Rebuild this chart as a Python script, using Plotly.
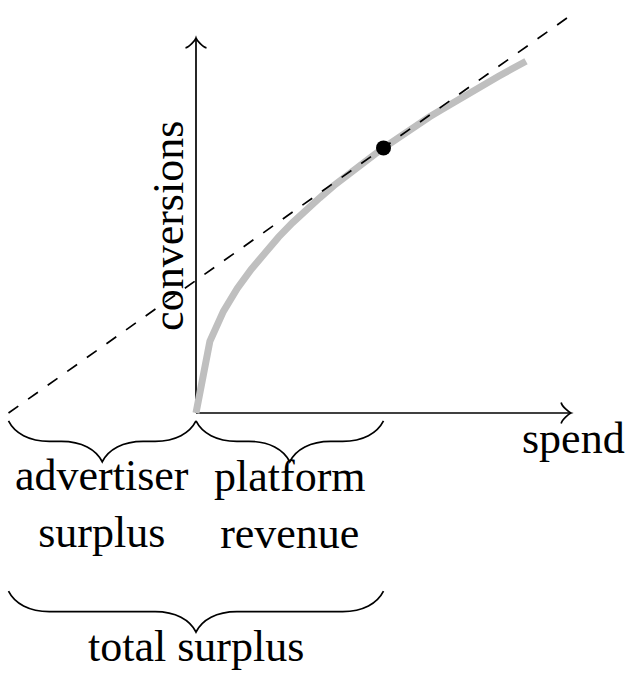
import plotly.graph_objects as go

# ---- data ----
spend_curve = [0.0, 0.37, 0.73, 1.10, 1.47, 1.83, 2.20, 2.57, 2.93, 3.30, 3.67, 4.03, 4.40,
               4.77, 5.13, 5.50, 5.87, 6.23, 6.60, 6.97, 7.33, 7.70, 8.07, 8.43, 8.80]
conversions_curve = [0.0, 1.91, 2.71, 3.32, 3.83, 4.28, 4.69, 5.07, 5.42, 5.74, 6.06, 6.35, 6.63,
                     6.90, 7.16, 7.42, 7.66, 7.90, 8.12, 8.35, 8.56, 8.77, 8.98, 9.18, 9.38]
tangent_spend = [-5.0, 10.0]
tangent_conversions = [0.0, 10.61]
point_spend = [5.0]
point_conversions = [7.07]
axis_max = 10.0
axis_labels = ["spend", "conversions"]
brace_start = [-5.0, 0.0, -5.0]
brace_end = [0.0, 5.0, 5.0]
brace_labels = ["advertiser<br>surplus", "platform<br>revenue", "total surplus"]

# ---- layout constants ----
W, H = 640, 686
PX = 37.5                 # pixels per data unit
OX, OY = 196.0, 413.0     # pixel position of origin
brace_level = [-0.21, -0.21, -4.75]
brace_amp = 1.09
label_shift = [-83, -84, -55]
LW = 1.7
FONT = dict(family="Liberation Serif, Times New Roman, serif", size=44, color="black")

x_range = [-OX / PX, (W - OX) / PX]
y_range = [(OY - H) / PX, OY / PX]


def brace_path(x0, x1, yb, a):
    xm = (x0 + x1) / 2
    p = lambda x, y: f"{x:.4f},{y:.4f}"
    return (f"M {p(x0, yb)} "
            f"C {p(x0 + .15*a, yb - .3*a)} {p(x0 + .5*a, yb - .5*a)} {p(x0 + a, yb - .5*a)} "
            f"L {p(xm - a, yb - .5*a)} "
            f"C {p(xm - .5*a, yb - .5*a)} {p(xm - .15*a, yb - .7*a)} {p(xm, yb - a)} "
            f"C {p(xm + .15*a, yb - .7*a)} {p(xm + .5*a, yb - .5*a)} {p(xm + a, yb - .5*a)} "
            f"L {p(x1 - a, yb - .5*a)} "
            f"C {p(x1 - .5*a, yb - .5*a)} {p(x1 - .15*a, yb - .3*a)} {p(x1, yb)}")


def arrow_path(tx, ty, dx, dy, s=0.07):
    # TikZ 'to' arrow tip, direction (dx, dy), tip at (tx, ty)
    px_, py_ = -dy, dx
    def pt(u, v):
        return f"{tx + u*dx + v*px_:.4f},{ty + u*dy + v*py_:.4f}"
    segs = []
    for sg in (1, -1):
        segs.append((pt(-3.75*s, sg*4*s), pt(-3.5*s, sg*2.5*s), pt(-0.75*s, sg*0.25*s), pt(0, 0)))
    a, b = segs
    return (f"M {a[0]} C {a[1]} {a[2]} {a[3]} "
            f"C {b[2]} {b[1]} {b[0]}")


fig = go.Figure()

# curve
fig.add_trace(go.Scatter(x=spend_curve, y=conversions_curve, mode="lines",
                         line=dict(color="#bfbfbf", width=7), hoverinfo="skip"))
# tangent
fig.add_trace(go.Scatter(x=tangent_spend, y=tangent_conversions, mode="lines",
                         line=dict(color="black", width=LW, dash="12px,12px"), hoverinfo="skip"))
# point
fig.add_trace(go.Scatter(x=point_spend, y=point_conversions, mode="markers",
                         marker=dict(color="black", size=15), hoverinfo="skip"))

shapes = [
    dict(type="line", x0=0, y0=0, x1=axis_max, y1=0, layer="below",
         line=dict(color="black", width=LW)),
    dict(type="line", x0=0, y0=0, x1=0, y1=axis_max, layer="below",
         line=dict(color="black", width=LW)),
    dict(type="path", path=arrow_path(axis_max, 0, 1, 0), line=dict(color="black", width=LW)),
    dict(type="path", path=arrow_path(0, axis_max, 0, 1), line=dict(color="black", width=LW)),
]
for x0, x1, yb in zip(brace_start, brace_end, brace_level):
    shapes.append(dict(type="path", path=brace_path(x0, x1, yb, brace_amp),
                       line=dict(color="black", width=LW)))

annotations = [
    dict(x=axis_max, y=0, text=axis_labels[0], showarrow=False, xshift=2, yshift=-25,
         xanchor="center", yanchor="middle", font=FONT),
    dict(x=0, y=axis_max / 2, text=axis_labels[1], showarrow=False, textangle=-90,
         xshift=-27.6, xanchor="center", yanchor="middle", font=FONT),
]
for x0, x1, yb, lab, sh in zip(brace_start, brace_end, brace_level, brace_labels, label_shift):
    annotations.append(dict(x=(x0 + x1) / 2, y=yb, text=lab, showarrow=False, yshift=sh,
                            xanchor="center", yanchor="middle", font=FONT))

fig.update_layout(
    width=W, height=H, autosize=False,
    margin=dict(l=0, r=0, t=0, b=0, pad=0),
    paper_bgcolor="white", plot_bgcolor="white",
    showlegend=False,
    xaxis=dict(range=x_range, visible=False, fixedrange=True),
    yaxis=dict(range=y_range, visible=False, fixedrange=True),
    shapes=shapes, annotations=annotations,
)

fig.write_html("out.html", config=dict(displayModeBar=False))
